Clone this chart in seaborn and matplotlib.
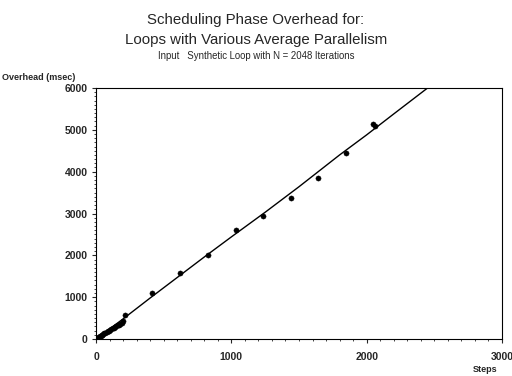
import matplotlib
matplotlib.use("Agg")
import matplotlib.pyplot as plt
from matplotlib.ticker import MultipleLocator
import seaborn as sns
import pandas as pd

# Measured points (steps, overhead msec)
steps = [4, 9, 14, 19, 24, 30, 36, 42, 48, 55, 62, 70, 78, 86, 95, 104, 113, 122,
         131, 140, 150, 160, 170, 180, 190, 200, 214,
         414, 621, 828, 1035, 1234, 1441, 1641, 1848, 2047, 2060]
overhead = [10, 20, 32, 42, 52, 64, 76, 90, 104, 118, 132, 148, 164, 180, 198, 216, 234, 252,
            270, 288, 306, 324, 344, 362, 380, 420, 574,
            1090, 1575, 2010, 2600, 2945, 3370, 3855, 4450, 5130, 5100]

# Fitted model curve
fit_steps = [0, 200, 400, 800, 1000, 1250, 1500, 1800, 2000, 2200, 2450]
fit_overhead = [0, 480, 980, 1960, 2440, 3030, 3640, 4400, 4880, 5380, 6000]

x_ticks = [0, 1000, 2000, 3000]
y_ticks = [0, 1000, 2000, 3000, 4000, 5000, 6000]

title_lines = ["Scheduling Phase Overhead for:", "Loops with Various Average Parallelism"]
subtitle = "Input   Synthetic Loop with N = 2048 Iterations"

sns.set_style("ticks")
plt.rcParams["font.family"] = ["Liberation Sans", "DejaVu Sans"]

pts = pd.DataFrame({"Steps": steps, "Overhead": overhead})
fit = pd.DataFrame({"Steps": fit_steps, "Overhead": fit_overhead})

fig = plt.figure(figsize=(5.12, 3.76), dpi=100)
ax = fig.add_axes([96 / 512, 1 - 339 / 376, (502 - 96) / 512, (339 - 88) / 376])

sns.lineplot(data=fit, x="Steps", y="Overhead", color="black", linewidth=1.0, ax=ax)
sns.scatterplot(data=pts, x="Steps", y="Overhead", color="black", s=14, edgecolor="black",
                linewidth=0.3, ax=ax, zorder=3)

ax.set_xlim(0, 3000)
ax.set_ylim(0, 6000)
ax.set_xticks(x_ticks)
ax.set_yticks(y_ticks)
ax.xaxis.set_minor_locator(MultipleLocator(100))
ax.yaxis.set_minor_locator(MultipleLocator(100))
ax.tick_params(axis="both", which="major", length=3, width=0.8, labelsize=7.5, pad=6)
ax.tick_params(axis="both", which="minor", length=1.5, width=0.6)
ax.tick_params(axis="y", pad=3)
for sp in ax.spines.values():
    sp.set_linewidth(0.8)
    sp.set_color("black")
ax.set_xlabel("")
ax.set_ylabel("")
for lab in ax.get_xticklabels() + ax.get_yticklabels():
    lab.set_fontweight("bold")

fig.text(0.5, 1 - 20 / 376, title_lines[0], ha="center", va="center", fontsize=10.8)
fig.text(0.5, 1 - 40 / 376, title_lines[1], ha="center", va="center", fontsize=10.8)
fig.text(0.5, 1 - 56 / 376, subtitle, ha="center", va="center", fontsize=6.9)
fig.text(2 / 512, 1 - 77 / 376, "Overhead (msec)", ha="left", va="center", fontsize=6.5,
         fontweight="bold")
fig.text(485 / 512, 1 - 369 / 376, "Steps", ha="center", va="center", fontsize=6.5,
         fontweight="bold")

fig.savefig("out.png", dpi=100)
